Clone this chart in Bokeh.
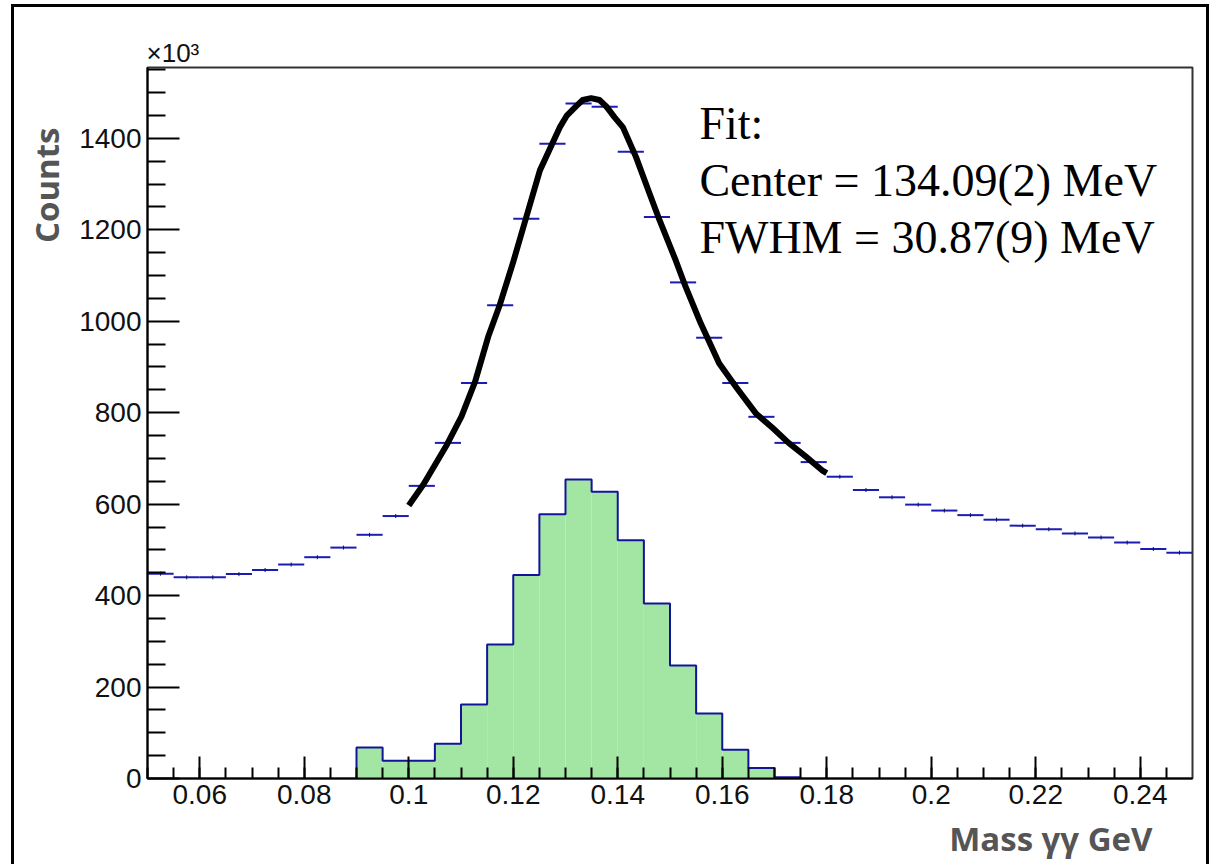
import math
from bokeh.plotting import figure
from bokeh.models import Range1d, FixedTicker, CustomJSTickFormatter, Label, Title
from bokeh.embed import file_html
from bokeh.resources import INLINE

# ---------------- data (counts in units of 10^3) ----------------
bin_low = [0.050, 0.055, 0.060, 0.065, 0.070, 0.075, 0.080, 0.085, 0.090, 0.095,
           0.100, 0.105, 0.110, 0.115, 0.120, 0.125, 0.130, 0.135, 0.140, 0.145,
           0.150, 0.155, 0.160, 0.165, 0.170, 0.175, 0.180, 0.185, 0.190, 0.195,
           0.200, 0.205, 0.210, 0.215, 0.220, 0.225, 0.230, 0.235, 0.240, 0.245]
bin_width = 0.005
all_counts = [448, 440, 440, 447, 456, 468, 484, 505, 533, 574,
              640, 734, 865, 1035, 1224, 1388, 1476, 1469, 1371, 1228,
              1085, 964, 865, 791, 734, 692, 660, 631, 615, 599,
              586, 576, 566, 553, 545, 536, 527, 516, 502, 494]

sig_low = [0.090, 0.095, 0.100, 0.105, 0.110, 0.115, 0.120, 0.125, 0.130,
           0.135, 0.140, 0.145, 0.150, 0.155, 0.160, 0.165, 0.170]
sig_counts = [68, 39, 39, 76, 162, 293, 445, 578, 654,
              627, 521, 383, 247, 142, 63, 23, 3]

fit_mass = [0.1000, 0.1028, 0.1073, 0.1101, 0.1127, 0.1152, 0.1174, 0.1200, 0.1225,
            0.1251, 0.1289, 0.1302, 0.1321, 0.1333, 0.1349, 0.1365, 0.1378, 0.1394,
            0.1410, 0.1435, 0.1461, 0.1480,
            0.1511, 0.1530, 0.1559, 0.1594, 0.1626, 0.1664, 0.1696, 0.1727, 0.1759,
            0.1791, 0.1800]
fit_counts = [597, 643, 730, 792, 868, 966, 1035, 1130, 1228,
              1330, 1424, 1449, 1471, 1484, 1488, 1484, 1470, 1446,
              1424, 1359, 1279, 1221,
              1133, 1075, 995, 908, 857, 799, 767, 734, 705,
              674, 668]

x_ticks = [0.06, 0.08, 0.10, 0.12, 0.14, 0.16, 0.18, 0.20, 0.22, 0.24]
x_minor = [0.050, 0.055, 0.060, 0.065, 0.070, 0.075, 0.080, 0.085, 0.090, 0.095,
           0.100, 0.105, 0.110, 0.115, 0.120, 0.125, 0.130, 0.135, 0.140, 0.145,
           0.150, 0.155, 0.160, 0.165, 0.170, 0.175, 0.180, 0.185, 0.190, 0.195,
           0.200, 0.205, 0.210, 0.215, 0.220, 0.225, 0.230, 0.235, 0.240, 0.245]
y_ticks = [0, 200, 400, 600, 800, 1000, 1200, 1400]
y_minor = [50, 100, 150, 250, 300, 350, 450, 500, 550, 650, 700, 750, 850, 900, 950,
           1050, 1100, 1150, 1250, 1300, 1350, 1450, 1500, 1550]

fit_text = ["Fit:", "Center = 134.09(2) MeV", "FWHM = 30.87(9) MeV"]
x_title = "Mass \u03b3\u03b3 GeV"
y_title = "Counts"
y_scale_note = "\u00d710\u00b3"

X_MIN, X_MAX = 0.05, 0.25
Y_MIN, Y_MAX = 0, 1555

# ---------------- figure ----------------
p = figure(width=1198, height=860, output_backend="svg", toolbar_location=None,
           x_range=Range1d(X_MIN, X_MAX), y_range=Range1d(Y_MIN, Y_MAX),
           min_border_left=129, min_border_right=20, min_border_top=60, min_border_bottom=87)
p.styles = {"margin-left": "11px", "margin-top": "4px",
            "border-left": "3px solid black", "border-top": "3px solid black",
            "border-right": "3px solid black"}
p.background_fill_color = "white"
p.border_fill_color = "white"
p.grid.visible = False
p.outline_line_color = "#333333"
p.outline_line_width = 2

# page-pixel -> data helpers for in-frame annotation placement
FL, FR, FT, FB = 143, 1192, 67, 780
def dx(X):
    return X_MIN + (X - FL) / (FR - FL) * (X_MAX - X_MIN)
def dy(Y):
    return Y_MIN + (FB - Y) / (FB - FT) * (Y_MAX - Y_MIN)

# signal histogram (green filled)
sig_right = [lo + bin_width for lo in sig_low]
p.quad(left=sig_low, right=sig_right, bottom=0, top=sig_counts,
       fill_color="#a3e6a3", line_color=None)
xs, ys = [sig_low[0]], [0]
for lo, hi, c in zip(sig_low, sig_right, sig_counts):
    xs += [lo, hi]
    ys += [c, c]
xs.append(sig_right[-1]); ys.append(0)
p.line(xs, ys, line_color="#14149a", line_width=2)

# full spectrum: horizontal bin bars
bin_high = [lo + bin_width for lo in bin_low]
bin_mid = [lo + bin_width / 2 for lo in bin_low]
p.segment(x0=bin_low, x1=bin_high, y0=all_counts, y1=all_counts,
          line_color="#1c1cb4", line_width=2)
p.scatter(bin_mid, all_counts, marker="dash", angle=math.pi / 2, size=4,
          line_color="#101050", line_width=1)

# fit curve
p.line(fit_mass, fit_counts, line_color="black", line_width=6, line_join="round")

# axes
for ax in (p.xaxis[0], p.yaxis[0]):
    ax.axis_line_color = "black"
    ax.axis_line_width = 2
    ax.major_tick_line_color = "black"
    ax.minor_tick_line_color = "black"
    ax.major_tick_line_width = 2
    ax.minor_tick_line_width = 2
    ax.major_tick_out = 0
    ax.minor_tick_out = 0
    ax.major_label_text_font = "Liberation Sans"
    ax.major_label_text_font_size = "28px"
    ax.major_label_text_color = "#111111"
    ax.major_label_standoff = 6

p.xaxis.ticker = FixedTicker(ticks=x_ticks, minor_ticks=x_minor)
p.yaxis.ticker = FixedTicker(ticks=y_ticks, minor_ticks=y_minor)
p.xaxis.major_tick_in = 22
p.xaxis.minor_tick_in = 11
p.yaxis.major_tick_in = 32
p.yaxis.minor_tick_in = 18
p.xaxis.formatter = CustomJSTickFormatter(code="return String(Math.round(tick*1000)/1000);")

# titles in the side panels
p.add_layout(Title(text=y_title, align="right", offset=60, standoff=15,
                   text_font="Open Sans", text_font_style="bold",
                   text_font_size="33px", text_color="#555555"), "left")
p.add_layout(Title(text=x_title, align="right", offset=40, standoff=14,
                   text_font="Open Sans", text_font_style="bold",
                   text_font_size="33px", text_color="#555555"), "below")
p.add_layout(Title(text=y_scale_note, align="left", offset=-1, standoff=0,
                   text_font="Liberation Sans", text_font_style="normal",
                   text_font_size="26px", text_color="#111111"), "above")

for i, line in enumerate(fit_text):
    p.add_layout(Label(x=dx(697), y=dy(123 + 57 * i), text=line,
                       text_align="left", text_baseline="alphabetic",
                       text_font="Liberation Serif", text_font_size="46px",
                       text_color="black"))

open("out.html", "w").write(file_html(p, INLINE))
